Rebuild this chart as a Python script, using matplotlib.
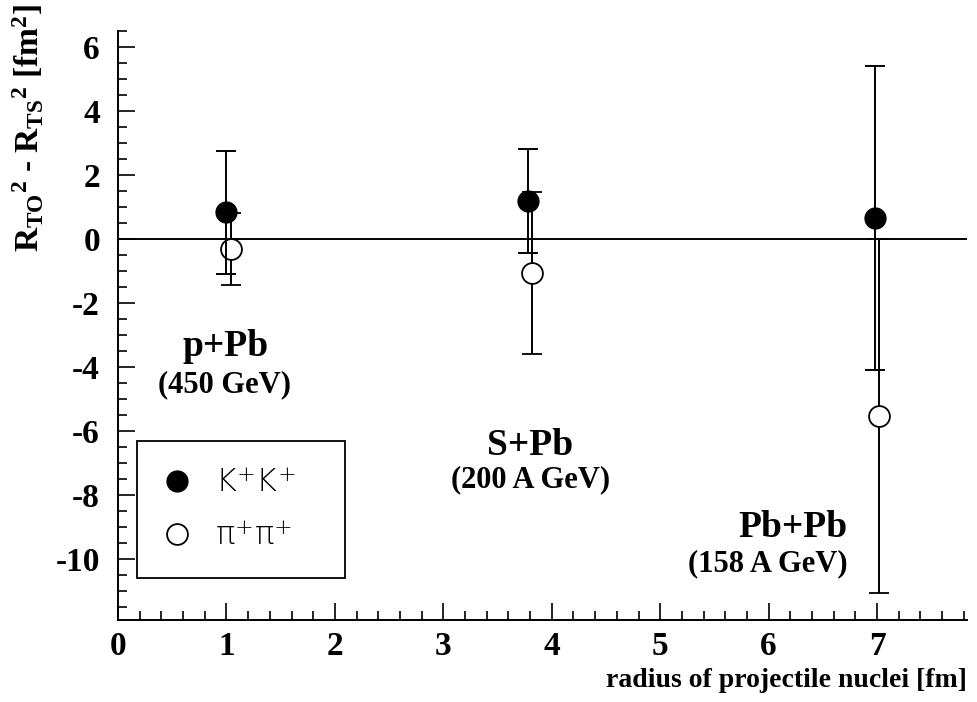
import matplotlib
matplotlib.use("Agg")
import matplotlib.pyplot as plt
from matplotlib.lines import Line2D
from matplotlib.ticker import MultipleLocator

plt.rcParams['font.family'] = ['Liberation Serif', 'DejaVu Serif']
plt.rcParams['axes.unicode_minus'] = False
plt.rcParams['mathtext.fontset'] = 'custom'
plt.rcParams['mathtext.rm'] = 'Liberation Serif:bold'
plt.rcParams['mathtext.it'] = 'Liberation Serif:bold'
plt.rcParams['mathtext.bf'] = 'Liberation Serif:bold'
plt.rcParams['mathtext.sf'] = 'DejaVu Sans:light'

# projectile radius [fm] and R_TO^2 - R_TS^2 [fm^2]
kaon_radius = [1.0, 3.78, 6.98]
kaon_diff = [0.84, 1.19, 0.66]
kaon_err = [1.92, 1.63, 4.75]

pion_radius = [1.04, 3.82, 7.02]
pion_diff = [-0.31, -1.06, -5.53]
pion_err = [1.11, 2.52, 5.53]

systems = ['p+Pb', 'S+Pb', 'Pb+Pb']
energies = ['(450 GeV)', '(200 A GeV)', '(158 A GeV)']

fig = plt.figure(figsize=(9.78, 7.02), dpi=100)
ax = fig.add_axes([0.1207, 0.1168, 0.8681, 0.839])

ax.axhline(0, color='black', lw=1.4, zorder=1)

ax.errorbar(pion_radius, pion_diff, yerr=pion_err, fmt='o', ms=15,
            mfc='white', mec='black', mew=1.3, ecolor='black',
            elinewidth=1.4, capsize=7.5, capthick=1.4, zorder=2)
ax.errorbar(kaon_radius, kaon_diff, yerr=kaon_err, fmt='o', ms=15,
            mfc='black', mec='black', ecolor='black',
            elinewidth=1.4, capsize=7.5, capthick=1.4, zorder=3)

# collision system labels
label_pos = [(0.99, -3.35), (3.8, -6.44), (6.22, -9.0)]
energy_pos = [(0.98, -4.56), (3.8, -7.53), (5.99, -10.13)]
for name, (x, y) in zip(systems, label_pos):
    ax.text(x, y, name, ha='center', va='center', fontsize=27,
            fontweight='bold')
for name, (x, y) in zip(energies, energy_pos):
    ax.text(x, y, name, ha='center', va='center', fontsize=22,
            fontweight='bold')

handles = [
    Line2D([], [], ls='none', marker='o', ms=15, mfc='black', mec='black'),
    Line2D([], [], ls='none', marker='o', ms=15, mfc='white', mec='black',
           mew=1.3),
]
names = [r'K$^{\mathsf{+}}$K$^{\mathsf{+}}$',
         '\u03c0' + r'$^{\mathsf{+}}$' + '\u03c0' + r'$^{\mathsf{+}}$']
leg = ax.legend(handles, names, loc='lower left',
                bbox_to_anchor=(0.0224, 0.0713, 0.245, 0.226), mode='expand',
                borderaxespad=0, frameon=True, fancybox=False,
                edgecolor='black', framealpha=1, borderpad=0.85,
                labelspacing=0.7, handlelength=0.8, handletextpad=0.8,
                prop={'family': ['DejaVu Sans'], 'weight': 'light',
                      'size': 23})
leg.get_frame().set_linewidth(1.3)

ax.set_xlim(0, 7.83)
ax.set_ylim(-11.9, 6.5)
ax.xaxis.set_major_locator(MultipleLocator(1))
ax.xaxis.set_minor_locator(MultipleLocator(0.2))
ax.yaxis.set_major_locator(MultipleLocator(2))
ax.yaxis.set_minor_locator(MultipleLocator(0.5))
ax.tick_params(which='both', direction='in', top=False, right=False,
               width=1.2, labelsize=24)
ax.tick_params(which='major', length=12)
ax.tick_params(which='minor', length=6.5)
ax.tick_params(axis='x', pad=8)
ax.tick_params(axis='y', pad=13)
for lab in ax.get_xticklabels() + ax.get_yticklabels():
    lab.set_fontweight('bold')

for side in ['top', 'right']:
    ax.spines[side].set_visible(False)
for side in ['left', 'bottom']:
    ax.spines[side].set_linewidth(1.4)

ax.set_xlabel('radius of projectile nuclei [fm]', fontsize=20,
              fontweight='bold', ha='right', va='center')
ax.xaxis.set_label_coords(1.0, -0.102)
ax.set_ylabel(r'R$_{TO}$$^{2}$ - R$_{TS}$$^{2}$ [fm$^{2}$]', fontsize=24,
              fontweight='bold', va='center')
ax.yaxis.set_label_coords(-0.106, 0.835)

fig.savefig('out.png', dpi=100)
